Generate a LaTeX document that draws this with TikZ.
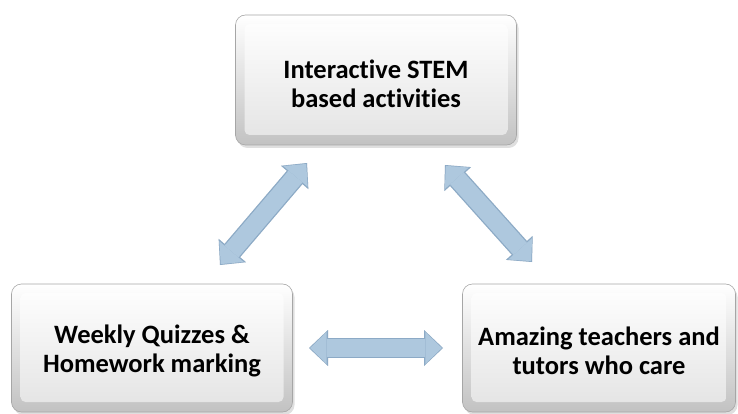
\documentclass[tikz,border=0pt]{standalone}
\usepackage{fontspec}
\setmainfont{Carlito}[Ligatures=NoCommon]
\usetikzlibrary{arrows.meta,shadows,calc}
\definecolor{arrowblue}{RGB}{174,200,222}
\definecolor{arrowedge}{RGB}{140,170,198}
\tikzset{
  box/.style={rounded corners=10pt, minimum width=280pt, minimum height=128pt,
    draw=black!35, line width=0.6pt,
    top color=white, bottom color=black!24,
    drop shadow={shadow xshift=2pt, shadow yshift=-3pt, opacity=0.25},
    path picture={
      \shade[top color=white, bottom color=black!11, rounded corners=5pt]
        ([shift={(9pt,-9pt)}]path picture bounding box.north west) rectangle
        ([shift={(-9pt,10pt)}]path picture bounding box.south east);
    }},
  boxtext/.style={align=center, font=\bfseries\fontsize{26.5}{29}\selectfont, text=black},
  arredge/.style={line width=20.5pt, draw=arrowedge,
    {Triangle[width=36pt,length=19pt,line width=0pt]}-{Triangle[width=36pt,length=19pt,line width=0pt]}},
  arrbody/.style={line width=18pt, draw=arrowblue, shorten <=1.2pt, shorten >=1.2pt,
    {Triangle[width=32pt,length=16.5pt,line width=0pt]}-{Triangle[width=32pt,length=16.5pt,line width=0pt]}},
  arrshadow/.style={line width=20.5pt, draw=black, opacity=0.10,
    {Triangle[width=36pt,length=19pt,line width=0pt]}-{Triangle[width=36pt,length=19pt,line width=0pt]}}
}
\begin{document}
\begin{tikzpicture}[x=1pt,y=-1pt]
\useasboundingbox (0,0) rectangle (738,414);
% boxes
\node[box, minimum width=281pt, minimum height=130pt] (topbox) at (376,80) {};
\node[boxtext] (toptext) at (376,84) {Interactive STEM\\based activities};
\node[box, minimum width=281pt, minimum height=128pt] (leftbox) at (152,348) {};
\node[boxtext] (lefttext) at (152,351) {Weekly Quizzes \&\\Homework marking};
\node[box, minimum width=273pt, minimum height=128pt] (rightbox) at (599,348) {};
\node[boxtext] (righttext) at (599,351) {Amazing teachers and\\tutors who care};
% arrow tips
\coordinate (a1) at (307,163);
\coordinate (a2) at (220,265);
\coordinate (b1) at (445,165);
\coordinate (b2) at (532,262);
\coordinate (c1) at (309,348);
\coordinate (c2) at (443,348);
% shadows
\begin{scope}[xshift=2pt,yshift=-3pt]
\draw[arrshadow] (a1) -- (a2);
\draw[arrshadow] (b1) -- (b2);
\draw[arrshadow] (c1) -- (c2);
\end{scope}
% arrows
\draw[arredge] (a1) -- (a2);
\draw[arrbody] (a1) -- (a2);
\draw[arredge] (b1) -- (b2);
\draw[arrbody] (b1) -- (b2);
\draw[arredge] (c1) -- (c2);
\draw[arrbody] (c1) -- (c2);
\end{tikzpicture}
\end{document}
